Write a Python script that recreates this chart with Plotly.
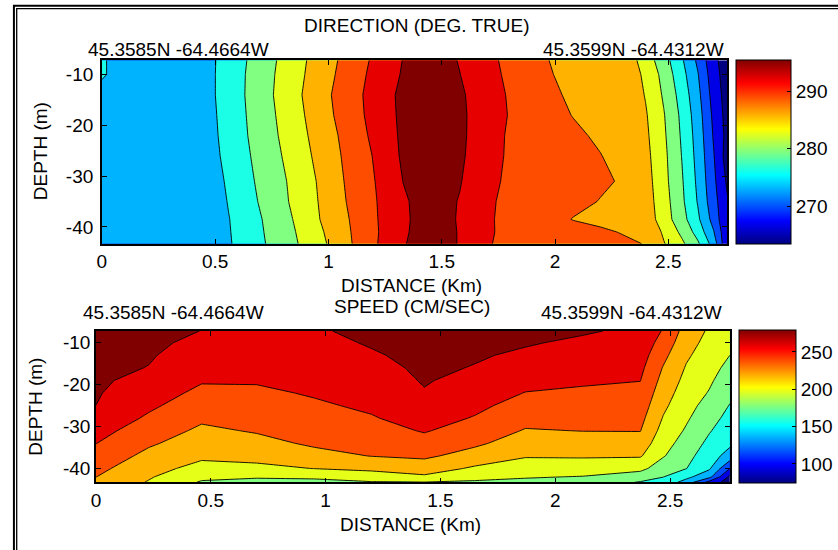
import plotly.graph_objects as go

W, H = 838, 550
FONT = "Liberation Sans, Arial, sans-serif"

# ---------------- Current direction section (deg. true) ----------------
dir_dist = [0.0, 0.25, 0.45, 0.56, 0.69, 0.82, 0.95, 1.08, 1.21, 1.33, 1.46, 1.58,
            1.70, 1.82, 1.95, 2.08, 2.20, 2.31, 2.40, 2.48, 2.56, 2.63, 2.70, 2.76]
dir_depth = [-7.2, -10, -14, -18, -22, -26, -31, -35, -38.5, -41, -43.3]
dir_vals = [
    [274.7, 273.5, 273.4, 275.9, 279.0, 282.2, 285.3, 288.3, 291.3, 293.9, 295.4, 293.6,
     291.4, 289.5, 287.6, 286.5, 286.3, 286.2, 282.7, 279.2, 275.0, 270.8, 265.8, 263.4],
    [274.7, 273.5, 273.4, 276.0, 279.2, 282.4, 285.5, 288.6, 291.6, 294.1, 295.4, 293.85,
     291.6, 289.7, 288.0, 286.2, 286.0, 285.5, 283.8, 279.9, 275.7, 271.6, 266.3, 263.4],
    [274.3, 273.5, 273.4, 276.0, 279.3, 282.6, 285.9, 289.0, 291.9, 294.6, 295.4, 294.3,
     291.9, 290.0, 288.4, 286.8, 286.3, 286.7, 284.0, 280.6, 276.5, 272.3, 266.9, 263.6],
    [273.9, 273.5, 273.2, 275.9, 279.1, 282.3, 285.6, 288.8, 291.8, 294.5, 295.4, 294.4,
     292.1, 290.1, 288.7, 287.3, 286.4, 286.0, 284.5, 281.2, 277.1, 272.9, 267.5, 263.8],
    [273.8, 273.5, 273.0, 275.8, 278.9, 282.0, 285.2, 288.3, 291.5, 294.4, 295.4, 294.5,
     291.7, 290.0, 289.1, 288.0, 286.9, 286.2, 284.8, 281.5, 277.4, 273.3, 267.9, 264.0],
    [273.7, 273.4, 272.9, 275.5, 278.6, 281.6, 284.8, 288.0, 291.0, 294.3, 295.4, 294.4,
     291.4, 290.1, 289.3, 288.3, 287.5, 286.2, 285.1, 281.8, 277.7, 273.6, 268.4, 263.5],
    [273.6, 273.3, 272.4, 275.1, 278.2, 281.1, 284.3, 287.7, 290.7, 293.85, 295.4, 294.0,
     291.2, 290.0, 289.4, 288.6, 287.8, 287.1, 285.5, 282.0, 278.1, 274.0, 268.9, 264.5],
    [273.6, 273.2, 272.0, 274.8, 277.85, 280.9, 284.1, 287.45, 290.5, 293.4, 295.4, 293.6,
     290.9, 290.0, 289.1, 288.1, 287.3, 286.5, 285.7, 282.4, 278.4, 274.4, 269.4, 265.3],
    [273.5, 273.1, 272.5, 274.5, 277.4, 280.4, 283.9, 287.1, 290.4, 293.3, 295.4, 293.5,
     290.9, 289.8, 288.6, 287.3, 286.8, 286.3, 286.1, 282.6, 279.0, 275.2, 270.2, 265.2],
    [273.4, 273.0, 272.4, 274.4, 277.25, 280.1, 283.4, 286.9, 290.3, 293.4, 295.4, 293.6,
     290.8, 290.1, 289.3, 288.5, 287.8, 287.2, 287.2, 283.7, 280.3, 276.6, 271.6, 265.5],
    [273.3, 273.0, 272.4, 274.3, 277.1, 279.9, 283.0, 286.7, 290.4, 293.6, 295.4, 293.6,
     290.7, 290.2, 289.5, 288.9, 288.3, 287.8, 287.3, 284.4, 281.6, 278.3, 273.2, 265.3],
]
dir_levels = dict(start=265.0, end=293.81, size=3.2)
dir_crange = [263.4, 295.4]
dir_ticks = [270, 280, 290]

# ---------------- Current speed section (cm/s) ----------------
spd_dist = [0.0, 0.23, 0.46, 0.70, 0.95, 1.20, 1.43, 1.65, 1.87, 2.12, 2.37, 2.47, 2.57, 2.67, 2.76]
spd_depth = [-7.2, -10, -13, -16, -19, -22, -25, -28, -31, -34, -37, -40, -42, -43.3]
# one vertical profile per station (top to bottom)
spd_profiles = [
    [279.0, 277.5, 275.8, 274.2, 272.5, 270.9, 269.2, 262.5, 255.7, 249.1, 241.4, 233.6, 228.5, 225.2],
    [275.0, 273.1, 271.0, 268.7, 263.1, 257.6, 252.2, 245.9, 238.3, 230.9, 223.0, 214.9, 209.7, 206.3],
    [269.0, 264.8, 260.0, 255.2, 250.4, 244.4, 238.0, 231.4, 224.7, 218.2, 211.5, 201.2, 191.5, 185.3],
    [266.5, 262.7, 258.6, 254.5, 250.4, 245.5, 240.4, 235.1, 229.8, 222.5, 214.2, 202.9, 189.4, 180.8],
    [267.0, 263.9, 260.5, 257.2, 253.8, 250.4, 246.2, 241.1, 236.0, 231.1, 222.0, 208.1, 191.4, 180.4],
    [274.0, 270.9, 267.3, 263.5, 259.6, 255.7, 251.8, 247.4, 241.1, 235.0, 228.8, 212.3, 197.1, 185.8],
    [278.0, 276.3, 274.4, 272.6, 270.7, 268.0, 262.2, 256.2, 250.2, 241.6, 231.8, 217.3, 204.6, 186.5],
    [275.0, 273.1, 271.0, 268.4, 263.3, 258.1, 253.1, 247.5, 239.5, 231.8, 220.1, 204.8, 192.6, 184.8],
    [273.0, 270.7, 266.5, 260.5, 254.4, 248.2, 241.3, 234.2, 226.9, 218.2, 209.4, 197.2, 188.6, 183.2],
    [271.0, 266.3, 261.3, 256.3, 251.3, 245.8, 240.2, 234.4, 228.6, 219.5, 210.0, 196.3, 186.5, 180.2],
    [266.0, 262.0, 257.7, 253.4, 249.1, 244.0, 239.0, 233.9, 228.8, 219.6, 209.6, 192.6, 177.0, 165.3],
    [247.0, 240.5, 233.4, 227.0, 221.9, 216.8, 211.8, 206.5, 200.5, 194.7, 188.7, 176.4, 167.1, 160.0],
    [220.0, 215.5, 210.7, 206.2, 202.1, 198.0, 194.0, 189.9, 185.0, 179.2, 173.2, 167.2, 151.7, 138.0],
    [205.0, 201.5, 197.7, 194.0, 190.2, 186.0, 180.2, 174.3, 168.3, 162.1, 155.6, 149.0, 132.1, 98.0],
    [197.0, 192.3, 187.2, 182.0, 176.6, 171.2, 165.9, 160.6, 155.2, 150.0, 138.2, 105.0, 80.0, 74.5],
]
spd_vals = [list(row) for row in zip(*spd_profiles)]
spd_levels = dict(start=84.75, end=269.26, size=20.5)
spd_crange = [74.5, 279.5]
spd_ticks = [100, 150, 200, 250]

dist_ticks = [0, 0.5, 1, 1.5, 2, 2.5]
dist_labels = ["0", "0.5", "1", "1.5", "2", "2.5"]
depth_ticks = [-10, -20, -30, -40]
depth_labels = ["-10", "-20", "-30", "-40"]
x_range = [0, 2.76]
y_range = [-43.3, -7.2]

JET = [[0.0, "rgb(0,0,128)"], [0.125, "rgb(0,0,255)"], [0.375, "rgb(0,255,255)"],
       [0.625, "rgb(255,255,0)"], [0.875, "rgb(255,0,0)"], [1.0, "rgb(128,0,0)"]]


def px(x):
    return x / W


def py(y):
    return 1 - y / H


fig = go.Figure()

for xa, ya, xs, ys, zs, lev in [("x", "y", dir_dist, dir_depth, dir_vals, dir_levels),
                                ("x2", "y2", spd_dist, spd_depth, spd_vals, spd_levels)]:
    fig.add_trace(go.Contour(
        x=xs, y=ys, z=zs, xaxis=xa, yaxis=ya,
        autocontour=False,
        contours=dict(coloring="fill", showlines=True, **lev),
        line=dict(color="black", width=0.9, smoothing=0),
        colorscale=JET, showscale=False, hoverinfo="skip",
    ))

# continuous colour bars
for xa, ya, cr, ticks, cbx, cby, cblen, cbth in [
        ("x", "y", dir_crange, dir_ticks, 737.3, 152.0, 184.0, 55.4),
        ("x2", "y2", spd_crange, spd_ticks, 740.3, 406.4, 152.7, 57.4)]:
    fig.add_trace(go.Scatter(
        x=[None], y=[None], xaxis=xa, yaxis=ya, mode="markers", showlegend=False,
        hoverinfo="skip",
        marker=dict(color=[cr[0]], colorscale=JET, cmin=cr[0], cmax=cr[1], showscale=True,
                    colorbar=dict(x=px(cbx), xanchor="left", xpad=0,
                                  y=py(cby), yanchor="middle", ypad=0,
                                  len=cblen, lenmode="pixels",
                                  thickness=cbth, thicknessmode="pixels",
                                  outlinewidth=1, outlinecolor="black",
                                  tickvals=ticks, ticktext=[str(t) for t in ticks],
                                  ticks="inside", ticklen=4, tickcolor="black",
                                  tickfont=dict(family=FONT, size=19, color="black"))),
    ))

axis_common = dict(showline=True, linecolor="black", linewidth=1.5, mirror="ticks",
                   ticks="inside", ticklen=5, tickcolor="black", tickwidth=1,
                   showgrid=False, zeroline=False,
                   tickfont=dict(family=FONT, size=19, color="black"))

fig.update_layout(
    width=W, height=H,
    margin=dict(l=0, r=0, t=0, b=0),
    paper_bgcolor="white", plot_bgcolor="white",
    showlegend=False,
    font=dict(family=FONT, size=19, color="black"),
    xaxis=dict(domain=[px(97.7), px(728.3)], range=x_range, anchor="y",
               tickvals=dist_ticks, ticktext=dist_labels, **axis_common),
    yaxis=dict(domain=[py(243.7), py(60.3)], range=y_range, anchor="x",
               tickvals=depth_ticks, ticktext=depth_labels, ticklabelstandoff=3,
               **axis_common),
    xaxis2=dict(domain=[px(91.7), px(731.0)], range=x_range, anchor="y2",
                tickvals=dist_ticks, ticktext=dist_labels, **axis_common),
    yaxis2=dict(domain=[py(482.3), py(331.0)], range=y_range, anchor="x2",
                tickvals=depth_ticks, ticktext=depth_labels, **axis_common),
)

texts = [
    ("DIRECTION (DEG. TRUE)", 415.5, 26, "center", 0),
    ("45.3585N -64.4664W", 82, 49, "left", 0),
    ("45.3599N -64.4312W", 541, 49, "left", 0),
    ("DISTANCE (Km)", 410, 285, "center", 0),
    ("SPEED (CM/SEC)", 410, 306, "center", 0),
    ("45.3585N -64.4664W", 77, 312, "left", 0),
    ("45.3599N -64.4312W", 539, 312, "left", 0),
    ("DISTANCE (Km)", 409, 524, "center", 0),
    ("DEPTH (m)", 35.5, 151, "center", -90),
    ("DEPTH (m)", 30, 407, "center", -90),
]
for txt, x, y, anchor, ang in texts:
    fig.add_annotation(text=txt, x=px(x), y=py(y), xref="paper", yref="paper",
                       xanchor=anchor, yanchor="middle", showarrow=False, textangle=ang,
                       font=dict(family=FONT, size=19, color="black"))

# double page frame along the top and left edges
fig.add_shape(type="rect", xref="paper", yref="paper", x0=px(9.0), x1=1.2, y0=-0.2, y1=py(5.8),
              line=dict(color="black", width=2))
fig.add_shape(type="rect", xref="paper", yref="paper", x0=px(11.8), x1=1.2, y0=-0.2, y1=py(8.7),
              line=dict(color="black", width=1.3))

fig.write_html("out.html")
